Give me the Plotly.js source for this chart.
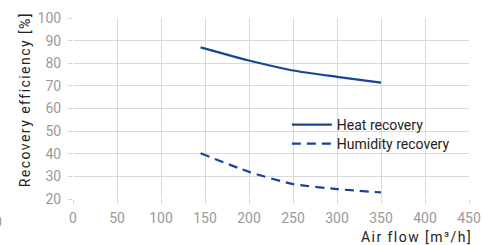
<!DOCTYPE html>
<html><head><meta charset="utf-8">
<script src="https://cdn.plot.ly/plotly-3.0.1.min.js"></script>
<style>html,body{margin:0;padding:0;background:#fff}#c{width:482px;height:245px}
.annotation[data-index="0"] text,.annotation[data-index="1"] text{letter-spacing:1.45px}</style>
</head><body><div id="c"></div>
<script>
const airFlow = [145, 200, 250, 300, 350];
const heatRecovery = [87, 81.2, 76.8, 74, 71.4];
const humidityRecovery = [40.2, 32, 26.6, 24.4, 22.9];
const xTicks = [0, 50, 100, 150, 200, 250, 300, 350, 400, 450];
const yTicks = [20, 30, 40, 50, 60, 70, 80, 90, 100];

const blue = '#17439b';
const traces = [
  {x: airFlow, y: heatRecovery, name: 'Heat recovery', type: 'scatter', mode: 'lines', legend: 'legend',
   line: {color: blue, width: 2.2, shape: 'spline', smoothing: 0.6}},
  {x: airFlow, y: humidityRecovery, name: 'Humidity recovery', type: 'scatter', mode: 'lines', legend: 'legend2',
   line: {color: blue, width: 2.2, dash: '9px,6px', shape: 'spline', smoothing: 0.6}}
];
const font = 'Roboto, sans-serif';
const legFont = {family: font, size: 14, color: '#222'};
const layout = {
  width: 482, height: 245,
  margin: {l: 73, r: 13, t: 18, b: 46},
  paper_bgcolor: '#fff', plot_bgcolor: '#fff',
  font: {family: font, size: 14, color: '#333'},
  showlegend: true,
  legend: {x: 0.540, y: (199 - 125) / 181, xanchor: 'left', yanchor: 'middle', bgcolor: 'rgba(0,0,0,0)',
    font: legFont, itemwidth: 40},
  legend2: {x: 0.540, y: (199 - 144) / 181, xanchor: 'left', yanchor: 'middle', bgcolor: 'rgba(0,0,0,0)',
    font: legFont, itemwidth: 40},
  shapes: [
    {type: 'rect', xref: 'paper', yref: 'paper', layer: 'below',
     x0: (287 - 73) / 396, x1: (465 - 73) / 396, y0: (199 - 155) / 181, y1: (199 - 115) / 181,
     fillcolor: '#fff', line: {width: 0}}
  ],
  xaxis: {range: [0, 450], tickvals: xTicks, ticktext: xTicks.map(String),
    showgrid: true, gridcolor: '#d9d9d9', gridwidth: 1, zeroline: false, showline: false,
    ticks: 'outside', ticklen: 4, tickcolor: '#d9d9d9', ticklabelstandoff: 2,
    tickfont: {family: font, size: 14, color: '#9a9a9a'}, fixedrange: true},
  yaxis: {range: [20, 100], tickvals: yTicks, ticktext: yTicks.map(String),
    showgrid: true, gridcolor: '#d9d9d9', gridwidth: 1, zeroline: false, showline: false,
    ticks: 'outside', ticklen: 4, tickcolor: '#d9d9d9', ticklabelstandoff: 4,
    tickfont: {family: font, size: 14, color: '#9a9a9a'}, fixedrange: true},
  annotations: [
    {text: 'Recovery efficiency [%]', xref: 'paper', yref: 'paper', x: (25 - 73) / 396, y: (199 - 100) / 181,
     xanchor: 'center', yanchor: 'middle', textangle: -90, showarrow: false,
     font: {family: font, size: 14, color: '#222'}},
    {text: 'Air flow [m³/h]', xref: 'paper', yref: 'paper', x: (416.5 - 73) / 396, y: (199 - 237) / 181,
     xanchor: 'center', yanchor: 'middle', showarrow: false,
     font: {family: font, size: 14, color: '#222'}},
    {text: '0', xref: 'paper', yref: 'paper', x: (4 - 73) / 396, y: (199 - 222) / 181,
     xanchor: 'right', yanchor: 'middle', showarrow: false,
     font: {family: font, size: 14, color: '#9a9a9a'}}
  ]
};
Plotly.newPlot('c', traces, layout, {displayModeBar: false, staticPlot: true});
</script></body></html>
